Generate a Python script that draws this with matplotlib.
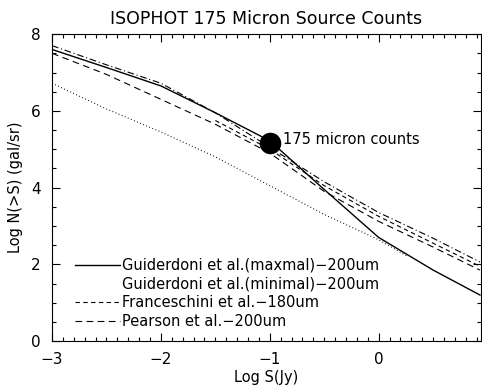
import numpy as np
import matplotlib
matplotlib.use('Agg')
import matplotlib.pyplot as plt
from matplotlib.ticker import MultipleLocator

################### data ##################
# log S (Jy) vs log N(>S) (gal/sr)
x_max = [-3.0, -2.5, -2.0, -1.5, -1.0, -0.5, 0.0, 0.5, 0.93]
y_max = [7.6, 7.13, 6.65, 5.95, 5.22, 3.95, 2.7, 1.85, 1.2]

x_dd = [-3.0, -2.5, -2.0, -1.5, -1.0, -0.5, 0.0, 0.5, 0.93]
y_dd = [7.7, 7.2, 6.72, 5.95, 5.05, 4.15, 3.35, 2.68, 2.06]

x_fra = [-1.5, -1.0, -0.5, 0.0, 0.5, 0.93]
y_fra = [5.75, 5.0, 4.05, 3.25, 2.55, 1.95]

x_pea = [-3.0, -2.5, -2.0, -1.5, -1.0, -0.5, 0.0, 0.5, 0.93]
y_pea = [7.5, 6.95, 6.3, 5.65, 4.9, 3.9, 3.12, 2.45, 1.85]

x_min = [-3.0, -2.5, -2.0, -1.5, -1.0, -0.5, 0.0, 0.27]
y_min = [6.72, 6.05, 5.45, 4.8, 4.05, 3.3, 2.64, 2.2]

x_obs = [-1.0]
y_obs = [5.16]

labels = ['Guiderdoni et al.(maxmal)\u2212200um',
          'Guiderdoni et al.(minimal)\u2212200um',
          'Franceschini et al.\u2212180um',
          'Pearson et al.\u2212200um']

################### plot ##################
fig = plt.figure(figsize=(4.82, 3.88), dpi=100)
ax = fig.add_axes([0.108, 0.121, 0.89, 0.791])

h1, = ax.plot(x_max, y_max, color='black', linewidth=1.0)
ax.plot(x_dd, y_dd, color='black', linewidth=0.8, dashes=(6, 2.5, 1, 2.5))
h3, = ax.plot(x_fra, y_fra, color='black', linewidth=0.8, dashes=(4, 3))
h4, = ax.plot(x_pea, y_pea, color='black', linewidth=0.8, dashes=(6, 4))
ax.plot(x_min, y_min, color='black', linewidth=0.8, dashes=(0.8, 2.2))
h2, = ax.plot([], [], linestyle='none')

ax.plot(x_obs, y_obs, 'o', color='black', markersize=14.5)
ax.text(x_obs[0] + 0.12, y_obs[0] + 0.1, '175 micron counts', fontsize=10.5,
        va='center', ha='left')

ax.legend([h1, h2, h3, h4], labels, loc='lower left',
          bbox_to_anchor=(0.054, 0.04), frameon=False, fontsize=10.5,
          handlelength=3.1, handletextpad=0.1, labelspacing=0.25,
          borderpad=0, borderaxespad=0)

ax.set_xlim(-3, 0.94)
ax.set_ylim(0, 8)
ax.xaxis.set_major_locator(MultipleLocator(1))
ax.xaxis.set_minor_locator(MultipleLocator(0.1))
ax.yaxis.set_major_locator(MultipleLocator(2))
ax.yaxis.set_minor_locator(MultipleLocator(0.5))
ax.tick_params(which='both', direction='in', top=True, right=True,
               labelsize=11, width=0.8)
ax.tick_params(which='major', length=6, pad=8)
ax.tick_params(which='minor', length=3)

ax.set_title('ISOPHOT 175 Micron Source Counts', fontsize=12.5, pad=7)
ax.set_xlabel('Log S(Jy)', fontsize=10.5, labelpad=2)
ax.set_ylabel('Log N(>S) (gal/sr)', fontsize=10.5, labelpad=6)

plt.savefig('out.png', dpi=100)
